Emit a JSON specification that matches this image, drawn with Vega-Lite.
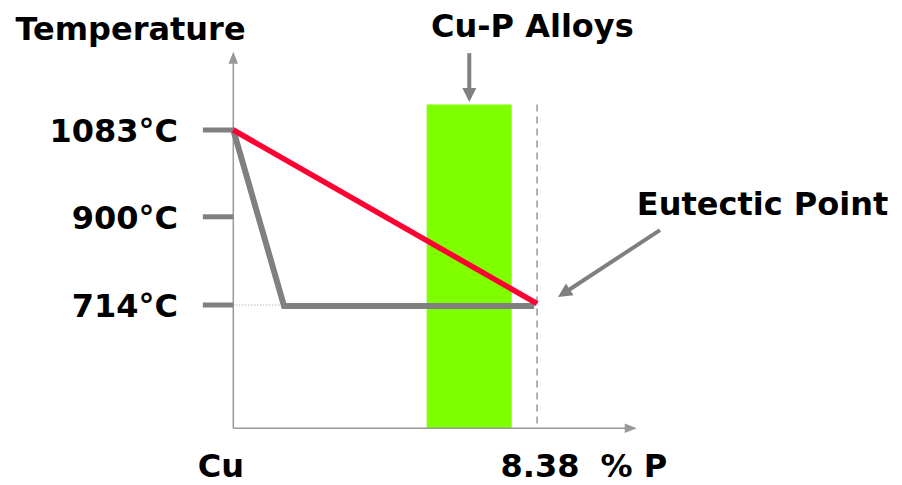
{
  "$schema": "https://vega.github.io/schema/vega-lite/v6.json",
  "width": 902,
  "height": 485,
  "autosize": {"type": "none"},
  "padding": 0,
  "background": "white",
  "config": {"view": {"stroke": null}, "font": "DejaVu Sans"},
  "encoding": {
    "x": {"field": "x", "type": "quantitative", "scale": {"domain": [-6.436, 18.447], "nice": false, "zero": false}, "axis": null},
    "y": {"field": "y", "type": "quantitative", "scale": {"domain": [334.5, 1357.1], "nice": false, "zero": false}, "axis": null}
  },
  "layer": [
    {
      "data": {"values": [{"x": 5.335, "x2": 7.68, "y": 1137, "y2": 454}]},
      "mark": {"type": "rect", "color": "#80ff00"},
      "encoding": {"x2": {"field": "x2"}, "y2": {"field": "y2"}}
    },
    {
      "data": {"values": [{"x": 8.38, "x2": 8.38, "y": 1137, "y2": 454}]},
      "mark": {"type": "rule", "color": "#999999", "strokeWidth": 1.5, "strokeDash": [7, 5]},
      "encoding": {"x2": {"field": "x2"}, "y2": {"field": "y2"}}
    },
    {
      "data": {"values": [{"x": 0, "x2": 1.4, "y": 714, "y2": 714}]},
      "mark": {"type": "rule", "color": "#999999", "strokeWidth": 1, "strokeDash": [1, 2]},
      "encoding": {"x2": {"field": "x2"}, "y2": {"field": "y2"}}
    },
    {
      "data": {"values": [
        {"x": 0, "x2": 0, "y": 454, "y2": 1238},
        {"x": 0, "x2": 10.95, "y": 454, "y2": 454}
      ]},
      "mark": {"type": "rule", "color": "#999999", "strokeWidth": 1.5},
      "encoding": {"x2": {"field": "x2"}, "y2": {"field": "y2"}}
    },
    {
      "data": {"values": [{"x": 0, "y": 1248}]},
      "mark": {"type": "point", "shape": "M0,0L0.4,1L-0.4,1Z", "filled": true, "color": "#999999", "opacity": 1, "size": 576, "angle": 0}
    },
    {
      "data": {"values": [{"x": 11.13, "y": 454}]},
      "mark": {"type": "point", "shape": "M0,0L0.4,1L-0.4,1Z", "filled": true, "color": "#999999", "opacity": 1, "size": 576, "angle": 90}
    },
    {
      "data": {"values": [
        {"x": -0.84, "x2": 0.05, "y": 1083, "y2": 1083},
        {"x": -0.84, "x2": 0, "y": 900, "y2": 900},
        {"x": -0.84, "x2": 0, "y": 714, "y2": 714}
      ]},
      "mark": {"type": "rule", "color": "#808080", "strokeWidth": 5},
      "encoding": {"x2": {"field": "x2"}, "y2": {"field": "y2"}}
    },
    {
      "data": {"values": [
        {"x": 0, "y": 1083, "order": 1},
        {"x": 1.4, "y": 712, "order": 2},
        {"x": 8.3, "y": 712, "order": 3}
      ]},
      "mark": {"type": "line", "color": "#808080", "strokeWidth": 6, "strokeJoin": "miter"},
      "encoding": {"order": {"field": "order"}}
    },
    {
      "data": {"values": [
        {"x": 0, "y": 1083, "order": 1},
        {"x": 8.38, "y": 717, "order": 2}
      ]},
      "mark": {"type": "line", "color": "#ff0033", "strokeWidth": 5.5},
      "encoding": {"order": {"field": "order"}}
    },
    {
      "data": {"values": [
        {"x": 6.51, "x2": 6.51, "y": 1245, "y2": 1165},
        {"x": 11.77, "x2": 9.19, "y": 872, "y2": 742.5}
      ]},
      "mark": {"type": "rule", "color": "#808080", "strokeWidth": 4},
      "encoding": {"x2": {"field": "x2"}, "y2": {"field": "y2"}}
    },
    {
      "data": {"values": [{"x": 6.51, "y": 1142}]},
      "mark": {"type": "point", "shape": "M0,0L0.5,1L-0.5,1Z", "filled": true, "color": "#808080", "opacity": 1, "size": 784, "angle": 180}
    },
    {
      "data": {"values": [{"x": 8.957, "y": 731}]},
      "mark": {"type": "point", "shape": "M0,0L0.5,1L-0.5,1Z", "filled": true, "color": "#808080", "opacity": 1, "size": 784, "angle": 237}
    },
    {
      "data": {"values": [
        {"x": -1.525, "y": 1083, "label": "1083°C"},
        {"x": -1.525, "y": 900, "label": "900°C"},
        {"x": -1.525, "y": 714, "label": "714°C"}
      ]},
      "mark": {"type": "text", "align": "right", "baseline": "alphabetic", "dy": 12, "fontSize": 32, "fontWeight": "bold", "color": "black"},
      "encoding": {"text": {"field": "label"}}
    },
    {
      "data": {"values": [
        {"x": -2.836, "y": 1272.8, "label": "Temperature"},
        {"x": 8.25, "y": 1279, "label": "Cu-P Alloys"},
        {"x": 14.6, "y": 903.8, "label": "Eutectic Point"},
        {"x": -0.34, "y": 352, "label": "Cu"},
        {"x": 8.46, "y": 352, "label": "8.38"},
        {"x": 11.05, "y": 352, "label": "% P"}
      ]},
      "mark": {"type": "text", "align": "center", "baseline": "alphabetic", "fontSize": 32, "fontWeight": "bold", "color": "black"},
      "encoding": {"text": {"field": "label"}}
    }
  ]
}
